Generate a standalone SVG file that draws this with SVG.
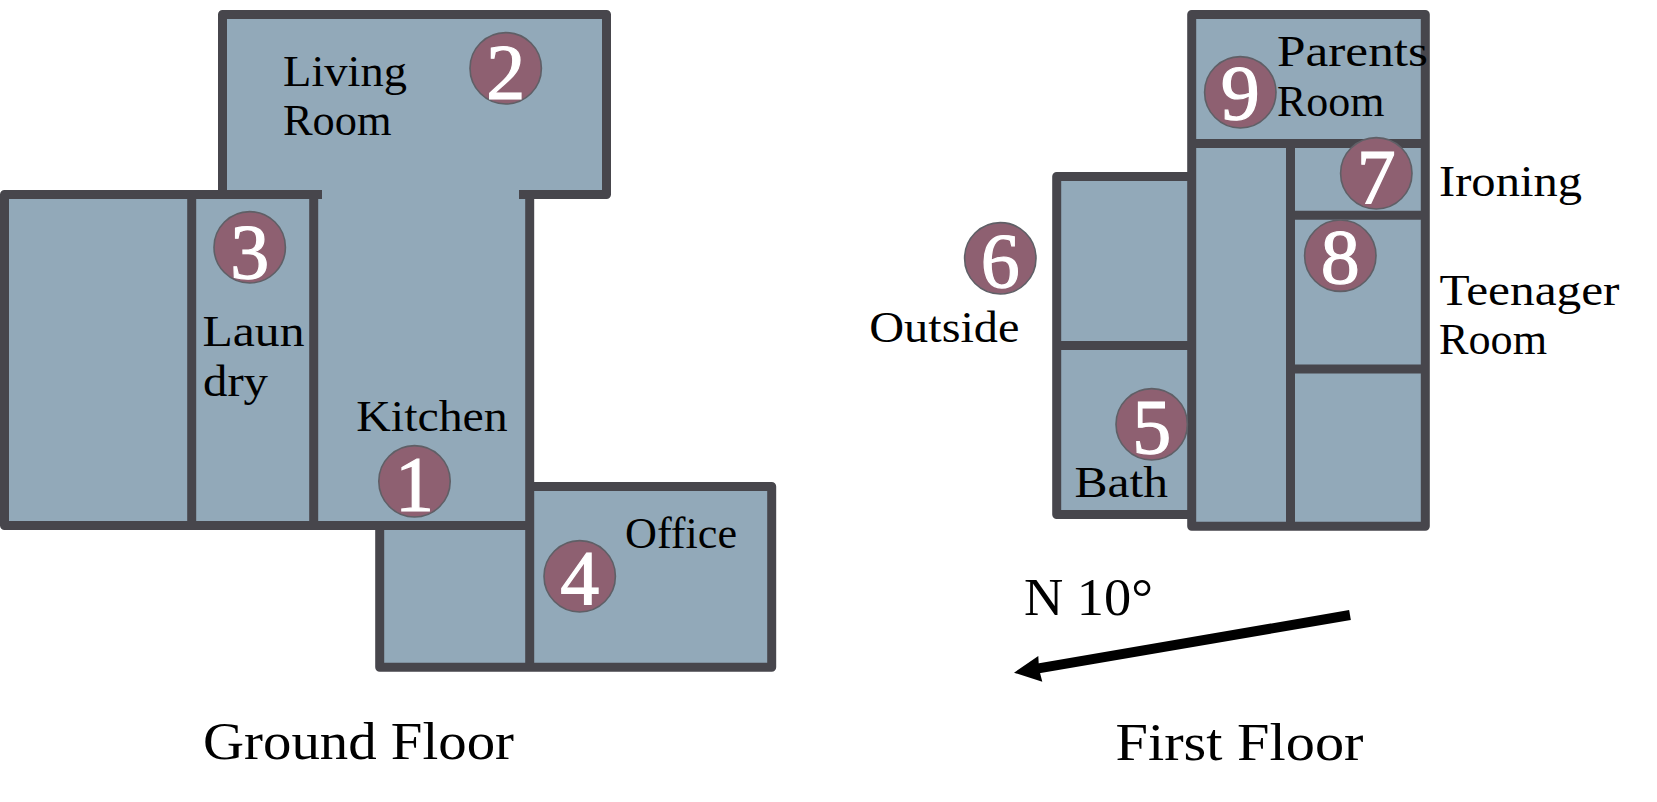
<svg xmlns="http://www.w3.org/2000/svg" width="1657" height="802" viewBox="0 0 1657 802">
<style>
.room{fill:#92a9b9}
.wall{fill:none;stroke:#47464c;stroke-width:9;stroke-linejoin:round;stroke-linecap:butt}
.dot{fill:#8e6071;stroke:#5f5f66;stroke-width:1.6}
.num{font-family:"Liberation Serif",serif;font-size:78px;fill:#fff;text-anchor:middle;stroke:#fff;stroke-width:1.2}
.lab{font-family:"Liberation Serif",serif;font-size:44px;fill:#000}
.ttl{font-family:"Liberation Serif",serif;font-size:53px;fill:#000}
</style>
<g id="rooms">
<path id="living-kitchen" class="room" d="M222.5 14.5H606.5V194.5H529.7V525.5H313.7V194.5H222.5Z"/>
<rect id="west-room" class="room" x="4.5" y="194.5" width="187.2" height="331"/>
<rect id="laundry" class="room" x="191.7" y="194.5" width="122" height="331"/>
<rect id="store" class="room" x="379.7" y="525.5" width="150" height="141.8"/>
<rect id="office" class="room" x="529.7" y="486.5" width="242" height="180.8"/>
<rect id="parents-room" class="room" x="1191.7" y="14.5" width="233.6" height="129"/>
<rect id="corridor" class="room" x="1191.7" y="143.5" width="98.8" height="382.8"/>
<rect id="ironing" class="room" x="1290.5" y="143.5" width="134.8" height="71.8"/>
<rect id="teenager-room" class="room" x="1290.5" y="215.3" width="134.8" height="153.7"/>
<rect id="south-room" class="room" x="1290.5" y="369" width="134.8" height="157.3"/>
<rect id="north-room" class="room" x="1056.7" y="176.5" width="135" height="169"/>
<rect id="bath" class="room" x="1056.7" y="345.5" width="135" height="169"/>
</g>
<g id="walls">
<path class="wall" d="M322 194.5H4.5V525.5H529.7M222.5 194.5V14.5H606.5V194.5H519M191.7 194.5V525.5M313.7 194.5V525.5M529.7 194.5V667.3M379.7 525.5V667.3H771.7V486.5H529.7"/>
<path class="wall" d="M1191.7 14.5H1425.3V526.3H1191.7ZM1191.7 143.5H1425.3M1290.5 143.5V526.3M1290.5 215.3H1425.3M1290.5 369H1425.3M1191.7 176.5H1056.7V514.5H1191.7M1056.7 345.5H1191.7"/>
</g>
<g id="marker-1"><circle class="dot" cx="414.5" cy="481.3" r="35.7"/><text class="num" x="414.5" y="510">1</text></g>
<g id="marker-2"><circle class="dot" cx="505.7" cy="68.3" r="35.7"/><text class="num" x="505.7" y="98">2</text></g>
<g id="marker-3"><circle class="dot" cx="249.7" cy="247.3" r="35.7"/><text class="num" x="249.7" y="278">3</text></g>
<g id="marker-4"><circle class="dot" cx="579.7" cy="576.3" r="35.7"/><text class="num" x="579.7" y="604">4</text></g>
<g id="marker-5"><circle class="dot" cx="1151.7" cy="424.3" r="35.7"/><text class="num" x="1151.7" y="453">5</text></g>
<g id="marker-6"><circle class="dot" cx="1000.3" cy="258.3" r="35.7"/><text class="num" x="1000.3" y="287">6</text></g>
<g id="marker-7"><circle class="dot" cx="1376.3" cy="173.3" r="35.7"/><text class="num" x="1376.3" y="202.5">7</text></g>
<g id="marker-8"><circle class="dot" cx="1340.3" cy="255.7" r="35.7"/><text class="num" x="1340.3" y="282.5">8</text></g>
<g id="marker-9"><circle class="dot" cx="1240.3" cy="92.3" r="35.7"/><text class="num" x="1240.3" y="118.5">9</text></g>
<g id="labels">
<text class="lab" x="283" y="86" textLength="124" lengthAdjust="spacingAndGlyphs">Living</text>
<text class="lab" x="283" y="135" textLength="108.5" lengthAdjust="spacingAndGlyphs">Room</text>
<text class="lab" x="202.5" y="346" textLength="102" lengthAdjust="spacingAndGlyphs">Laun</text>
<text class="lab" x="203" y="396" textLength="65" lengthAdjust="spacingAndGlyphs">dry</text>
<text class="lab" x="356.3" y="431" textLength="151.5" lengthAdjust="spacingAndGlyphs">Kitchen</text>
<text class="lab" x="625" y="548.3" textLength="112" lengthAdjust="spacingAndGlyphs">Office</text>
<text class="lab" x="1277" y="66" textLength="151" lengthAdjust="spacingAndGlyphs">Parents</text>
<text class="lab" x="1277" y="116" textLength="107.5" lengthAdjust="spacingAndGlyphs">Room</text>
<text class="lab" x="1439" y="196" textLength="143" lengthAdjust="spacingAndGlyphs">Ironing</text>
<text class="lab" x="1439.5" y="305" textLength="180" lengthAdjust="spacingAndGlyphs">Teenager</text>
<text class="lab" x="1439" y="354" textLength="108" lengthAdjust="spacingAndGlyphs">Room</text>
<text class="lab" x="869.2" y="341.7" textLength="150.3" lengthAdjust="spacingAndGlyphs">Outside</text>
<text class="lab" x="1074.5" y="496.7" textLength="93.5" lengthAdjust="spacingAndGlyphs">Bath</text>
<text class="ttl" x="1024" y="615" textLength="129" lengthAdjust="spacingAndGlyphs">N 10°</text>
<text class="ttl" x="203" y="759" textLength="311" lengthAdjust="spacingAndGlyphs">Ground Floor</text>
<text class="ttl" x="1115.5" y="760" textLength="248" lengthAdjust="spacingAndGlyphs">First Floor</text>
</g>
<g id="north-arrow">
<line x1="1350" y1="615" x2="1037" y2="668.6" stroke="#000" stroke-width="10"/>
<polygon points="1014,672.7 1038.3,656 1039,669 1042.3,681.7" fill="#000"/>
</g>
</svg>
